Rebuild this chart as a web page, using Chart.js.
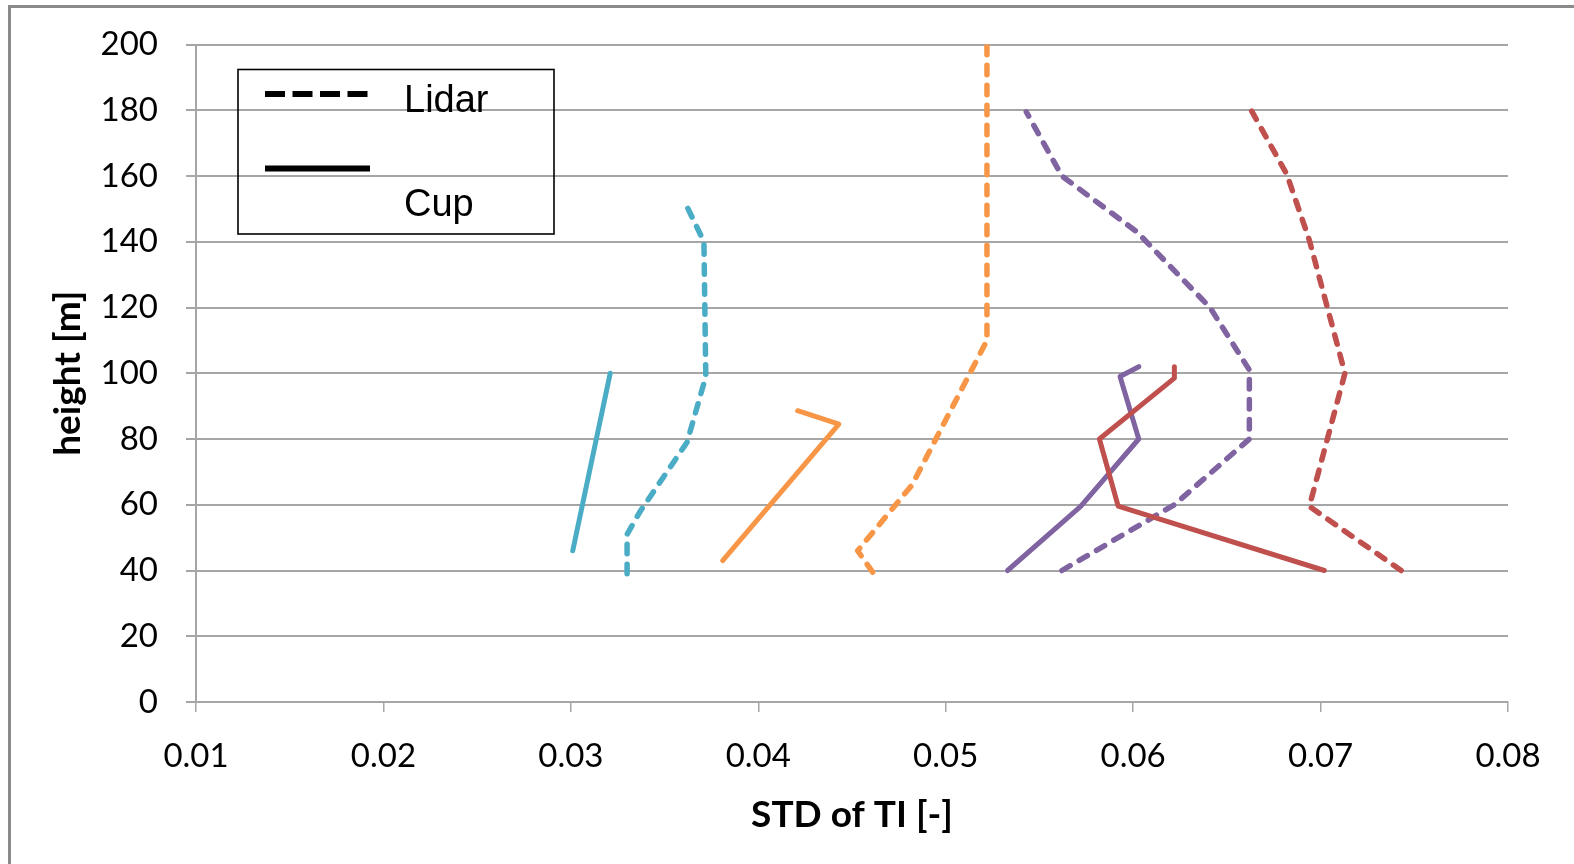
<!DOCTYPE html>
<html>
<head>
<meta charset="utf-8">
<script src="https://cdn.jsdelivr.net/npm/chart.js@4/dist/chart.umd.min.js"></script>
<style>
  html, body { margin: 0; padding: 0; background: #ffffff; }
  #wrap { position: relative; width: 1574px; height: 864px; }
</style>
</head>
<body>
<div id="wrap"><canvas id="c" width="1574" height="864"></canvas></div>
<script>
// ---- data ----
const xTickValues = [0.01, 0.02, 0.03, 0.04, 0.05, 0.06, 0.07, 0.08];
const yTickValues = [0, 20, 40, 60, 80, 100, 120, 140, 160, 180, 200];

const cyanLidarX = [0.033, 0.033, 0.0337, 0.0362, 0.0372, 0.0371, 0.0360];
const cyanLidarY = [39, 51, 58, 79, 99, 140, 153];
const cyanCupX = [0.0301, 0.0321];
const cyanCupY = [46, 100];

const orangeLidarX = [0.0461, 0.0453, 0.0482, 0.0522, 0.0522];
const orangeLidarY = [39.5, 46, 66, 110, 200];
const orangeCupX = [0.0381, 0.0443, 0.0421];
const orangeCupY = [43, 84.5, 88.6];

const purpleLidarX = [0.0562, 0.0622, 0.0662, 0.0662, 0.0641, 0.0602, 0.0562, 0.0543];
const purpleLidarY = [40, 60, 80, 101, 120, 143, 160, 179.5];
const purpleCupX = [0.0533, 0.0572, 0.0603, 0.0593, 0.0603];
const purpleCupY = [40, 59.5, 80, 99, 102];

const redLidarX = [0.0743, 0.0694, 0.0713, 0.0694, 0.0682, 0.0663];
const redLidarY = [40, 59.5, 100, 140.5, 160.5, 180];
const redCupX = [0.0702, 0.0592, 0.0582, 0.0622, 0.0622];
const redCupY = [40, 59.6, 80, 98.5, 102];

const legendLabels = ['Lidar', 'Cup'];
const xTitle = 'STD of TI [-]';
const yTitle = 'height [m]';

const colors = { cyan: '#4BACC6', orange: '#F79646', purple: '#8064A2', red: '#C0504D' };

function pts(xs, ys) { return xs.map((x, i) => ({ x: x, y: ys[i] })); }
function ds(xs, ys, color, dashed) {
  return {
    data: pts(xs, ys),
    borderColor: color,
    backgroundColor: color,
    borderWidth: dashed ? 5.5 : 5,
    borderDash: dashed ? [9.5, 10.5] : [],
    borderCapStyle: 'round',
    borderJoinStyle: 'round',
    pointRadius: 0,
    showLine: true,
    tension: 0,
    fill: false
  };
}

// index 0 is drawn on top in Chart.js
const datasets = [
  ds(redCupX, redCupY, colors.red, false),
  ds(purpleCupX, purpleCupY, colors.purple, false),
  ds(orangeCupX, orangeCupY, colors.orange, false),
  ds(cyanCupX, cyanCupY, colors.cyan, false),
  ds(redLidarX, redLidarY, colors.red, true),
  ds(purpleLidarX, purpleLidarY, colors.purple, true),
  ds(orangeLidarX, orangeLidarY, colors.orange, true),
  ds(cyanLidarX, cyanLidarY, colors.cyan, true)
];

const gridColor = '#a6a6a6';

const decor = {
  id: 'decor',
  afterDraw(chart) {
    const ctx = chart.ctx;
    ctx.save();
    // outer frame (cropped at right/bottom)
    ctx.strokeStyle = '#8a8a8a';
    ctx.lineWidth = 3;
    ctx.beginPath();
    ctx.moveTo(9.5, 880);
    ctx.lineTo(9.5, 6.5);
    ctx.lineTo(1600, 6.5);
    ctx.stroke();

    // legend box
    ctx.strokeStyle = '#000000';
    ctx.lineWidth = 1.6;
    ctx.strokeRect(238, 69.5, 316, 164.5);
    // dashed sample
    ctx.lineWidth = 6;
    ctx.lineCap = 'butt';
    ctx.setLineDash([20, 7.5]);
    ctx.beginPath();
    ctx.moveTo(265, 94);
    ctx.lineTo(370, 94);
    ctx.stroke();
    ctx.setLineDash([]);
    ctx.beginPath();
    ctx.moveTo(265, 168.5);
    ctx.lineTo(370, 168.5);
    ctx.stroke();
    ctx.fillStyle = '#000000';
    ctx.font = '38px "Liberation Sans", Arial, sans-serif';
    ctx.textAlign = 'left';
    ctx.textBaseline = 'alphabetic';
    ctx.fillText(legendLabels[0], 404, 112);
    ctx.fillText(legendLabels[1], 404, 216);
    ctx.restore();
  }
};

new Chart(document.getElementById('c'), {
  type: 'scatter',
  data: { datasets: datasets },
  options: {
    responsive: false,
    animation: false,
    devicePixelRatio: 1,
    layout: { padding: { left: 0, top: 44, right: 66, bottom: 0 } },
    plugins: { legend: { display: false }, tooltip: { enabled: false } },
    scales: {
      x: {
        type: 'linear',
        min: 0.01, max: 0.08,
        afterBuildTicks: (axis) => { axis.ticks = xTickValues.map(v => ({ value: v })); },
        afterFit: (scale) => { scale.height = 162; },
        grid: { drawOnChartArea: false, drawTicks: true, tickLength: 10, color: gridColor, lineWidth: 1.5 },
        border: { display: true, color: gridColor, width: 2 },
        ticks: {
          padding: 25,
          color: '#000000',
          font: { family: 'Lato', size: 33 },
          maxRotation: 0,
          callback: (v) => v.toFixed(2)
        },
        title: {
          display: true, text: xTitle, color: '#000000',
          font: { family: 'Lato', size: 37, weight: 'bold' },
          padding: { top: 0, bottom: 27 }
        }
      },
      y: {
        type: 'linear',
        min: 0, max: 200,
        afterBuildTicks: (axis) => { axis.ticks = yTickValues.map(v => ({ value: v })); },
        afterFit: (scale) => { scale.width = 196; },
        grid: { drawTicks: true, tickLength: 10, color: gridColor, lineWidth: 2 },
        border: { display: true, color: gridColor, width: 2 },
        ticks: {
          padding: 28,
          color: '#000000',
          font: { family: 'Lato', size: 33, lineHeight: 1.0 },
          callback: (v) => String(v)
        },
        title: {
          display: true, text: yTitle, color: '#000000',
          font: { family: 'Lato', size: 37, weight: 'bold' },
          padding: { top: 46, bottom: 0 }
        }
      }
    }
  },
  plugins: [decor]
});
</script>
</body>
</html>
